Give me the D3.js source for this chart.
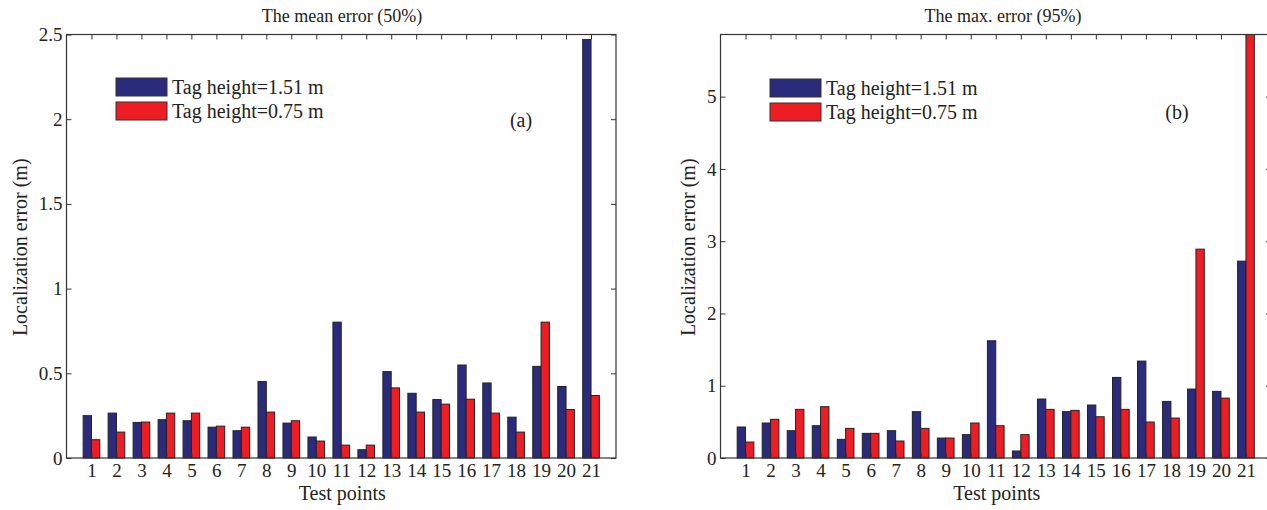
<!DOCTYPE html>
<html>
<head>
<meta charset="utf-8">
<script src="https://cdn.jsdelivr.net/npm/d3@7"></script>
<style>
  body { margin: 0; background: #fff; }
  svg text { font-family: "Liberation Serif", "DejaVu Serif", serif; fill: #222; }
</style>
</head>
<body>
<div id="chart"></div>
<script>
// test point labels along x
var testPoints = [1,2,3,4,5,6,7,8,9,10,11,12,13,14,15,16,17,18,19,20,21];

// (a) mean error (50%)
var meanHigh = [0.25,0.265,0.21,0.226,0.22,0.182,0.161,0.451,0.206,0.124,0.802,0.049,0.51,0.382,0.345,0.549,0.443,0.241,0.541,0.422,2.47];
var meanLow  = [0.108,0.153,0.212,0.265,0.265,0.188,0.182,0.271,0.22,0.1,0.076,0.076,0.414,0.271,0.318,0.347,0.265,0.153,0.802,0.286,0.369];
var meanTicks = [0,0.5,1,1.5,2,2.5];

// (b) max error (95%)
var maxHigh = [0.429,0.484,0.378,0.447,0.258,0.341,0.378,0.641,0.276,0.323,1.622,0.097,0.816,0.641,0.733,1.115,1.341,0.783,0.954,0.922,2.724];
var maxLow  = [0.221,0.535,0.673,0.71,0.41,0.341,0.235,0.41,0.276,0.484,0.447,0.323,0.673,0.659,0.571,0.673,0.498,0.553,2.89,0.829,5.86];
var maxTicks = [0,1,2,3,4,5];

var seriesNames = ["Tag height=1.51 m", "Tag height=0.75 m"];

var W = 1267, H = 510;
var colHigh = "#2b2b7e", colLow = "#ee1d24";

var svg = d3.select("#chart").append("svg")
    .attr("width", W)
    .attr("height", H);

function drawPanel(p) {
    var x = d3.scaleLinear().domain([0, 22]).range([p.left, p.right]);
    var y = d3.scaleLinear().domain([0, p.ymax]).range([p.bottom, p.top]);
    var g = svg.append("g");
    var bw = 1/3; // bar width in x units

    // bars
    var bars = g.append("g");
    testPoints.forEach(function(t, i) {
        bars.append("rect")
            .attr("x", x(t - bw))
            .attr("width", x(t) - x(t - bw))
            .attr("y", y(p.high[i]))
            .attr("height", y(0) - y(p.high[i]))
            .attr("fill", colHigh).attr("stroke", "#222").attr("stroke-width", 1);
        bars.append("rect")
            .attr("x", x(t))
            .attr("width", x(t + bw) - x(t))
            .attr("y", y(p.low[i]))
            .attr("height", y(0) - y(p.low[i]))
            .attr("fill", colLow).attr("stroke", "#222").attr("stroke-width", 1);
    });

    // axes with inward ticks, like matlab
    var fmt = function(d) { return String(d); };
    var left = g.append("g").attr("transform", "translate(" + p.left + ",0)")
        .call(d3.axisLeft(y).tickValues(p.ticks).tickFormat(fmt).tickSize(-5).tickPadding(4));
    var right = g.append("g").attr("transform", "translate(" + p.right + ",0)")
        .call(d3.axisRight(y).tickValues(p.ticks).tickSize(-5).tickFormat(""));
    var top = g.append("g").attr("transform", "translate(0," + p.top + ")")
        .call(d3.axisTop(x).tickValues(testPoints).tickSize(-5).tickFormat(""));
    var bot = g.append("g").attr("transform", "translate(0," + p.bottom + ")")
        .call(d3.axisBottom(x).tickValues(testPoints).tickSize(-5).tickPadding(6));
    [left, right, top, bot].forEach(function(a) {
        a.select(".domain").remove();
        a.selectAll(".tick line").attr("stroke", "#333");
        a.selectAll("text").style("font-size", "19px").attr("fill", "#222");
    });

    // frame
    g.append("rect")
        .attr("x", p.left).attr("y", p.top)
        .attr("width", p.right - p.left).attr("height", p.bottom - p.top)
        .attr("fill", "none").attr("stroke", "#333").attr("stroke-width", 1.2);

    // title
    g.append("text")
        .attr("x", p.titleX).attr("y", 22)
        .attr("text-anchor", "middle")
        .style("font-size", "18px")
        .text(p.title);

    // axis labels
    g.append("text")
        .attr("x", (p.left + p.right) / 2 + 1).attr("y", 500)
        .attr("text-anchor", "middle")
        .style("font-size", "20px")
        .text("Test points");
    g.append("text")
        .attr("transform", "translate(" + p.ylabX + "," + ((p.top + p.bottom) / 2 + 1) + ") rotate(-90)")
        .attr("text-anchor", "middle")
        .style("font-size", "20px")
        .text("Localization error (m)");

    // legend
    var cols = [colHigh, colLow];
    seriesNames.forEach(function(s, i) {
        g.append("rect")
            .attr("x", p.legX).attr("y", p.legY + i * 24)
            .attr("width", 51).attr("height", 18)
            .attr("fill", cols[i]).attr("stroke", "#333").attr("stroke-width", 1);
        g.append("text")
            .attr("x", p.legX + 56).attr("y", p.legY + i * 24 + 16)
            .style("font-size", "20px")
            .text(s);
    });

    // panel letter
    g.append("text")
        .attr("x", p.tagX).attr("y", p.tagY)
        .attr("text-anchor", "middle")
        .style("font-size", "20px")
        .text(p.tag);
}

drawPanel({
    left: 66.5, right: 616, top: 34.5, bottom: 458, ymax: 2.5,
    high: meanHigh, low: meanLow, ticks: meanTicks,
    title: "The mean error (50%)", titleX: 342, ylabX: 27,
    legX: 116, legY: 78, tag: "(a)", tagX: 521, tagY: 127
});

drawPanel({
    left: 720.5, right: 1271, top: 34.5, bottom: 458, ymax: 5.86,
    high: maxHigh, low: maxLow, ticks: maxTicks,
    title: "The max. error (95%)", titleX: 1003, ylabX: 695,
    legX: 770, legY: 79, tag: "(b)", tagX: 1177, tagY: 119
});
</script>
</body>
</html>
